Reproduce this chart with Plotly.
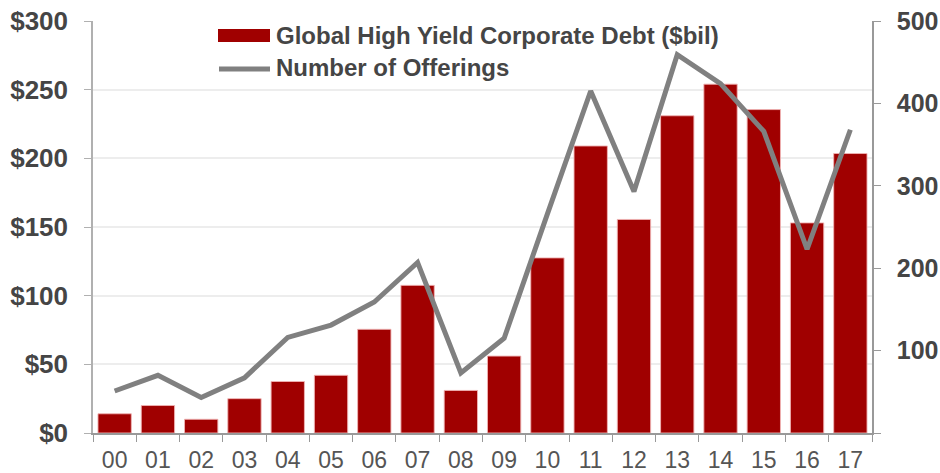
import plotly.graph_objects as go

years = ["00", "01", "02", "03", "04", "05", "06", "07", "08", "09",
         "10", "11", "12", "13", "14", "15", "16", "17"]
debt_bil = [14, 20, 10, 25, 37.5, 42, 75.5, 107.5, 31, 56,
            127.5, 209, 155.5, 231, 254, 235.5, 153, 203.5]
offerings = [51, 70, 43, 67, 116, 131, 159, 207, 73, 115,
             266, 415, 293, 459, 424, 366, 223, 368]

bar_name = "Global High Yield Corporate Debt ($bil)"
line_name = "Number of Offerings"
left_ticks = [0, 50, 100, 150, 200, 250, 300]
left_text = ["$0", "$50", "$100", "$150", "$200", "$250", "$300"]
right_ticks = [0, 100, 200, 300, 400, 500]
right_text = ["", "100", "200", "300", "400", "500"]

RED = "#a00000"
GRAY = "#808080"
TXT = "#454545"
FONT = "Liberation Sans, Arial, sans-serif"

fig = go.Figure()
fig.add_trace(go.Bar(
    x=years, y=debt_bil, name=bar_name,
    marker=dict(color=RED, line=dict(color="rgba(240,180,180,0.9)", width=1)),
    yaxis="y", showlegend=False, hoverinfo="skip",
))
fig.add_trace(go.Scatter(
    x=years, y=offerings, name=line_name, mode="lines",
    line=dict(color=GRAY, width=5),
    yaxis="y2", showlegend=False, hoverinfo="skip",
))

W, H = 940, 473
L, R, T, B = 93, 68, 21, 40
pw, ph = W - L - R, H - T - B

def px(x):
    return (x - L) / pw

def py(y):
    return (H - B - y) / ph

shapes = [
    dict(type="rect", xref="paper", yref="paper",
         x0=px(218), x1=px(270), y0=py(42), y1=py(29),
         fillcolor=RED, line=dict(width=0)),
    dict(type="line", xref="paper", yref="paper",
         x0=px(219), x1=px(270), y0=py(69), y1=py(69),
         line=dict(color=GRAY, width=5)),
]
annotations = [
    dict(xref="paper", yref="paper", x=px(274), y=py(36), text=bar_name,
         showarrow=False, xanchor="left", yanchor="middle",
         font=dict(family=FONT, size=24, color=TXT, weight="bold")),
    dict(xref="paper", yref="paper", x=px(274), y=py(68), text=line_name,
         showarrow=False, xanchor="left", yanchor="middle",
         font=dict(family=FONT, size=24, color=TXT, weight="bold")),
]

fig.update_layout(
    width=W, height=H,
    margin=dict(l=L, r=R, t=T, b=B, pad=0, autoexpand=False),
    paper_bgcolor="white", plot_bgcolor="white",
    bargap=0.23,
    shapes=shapes, annotations=annotations,
    xaxis=dict(
        type="category", tickson="boundaries", ticks="outside", ticklen=7,
        tickcolor="#999999", showline=True, linecolor="#999999", linewidth=1.5,
        tickfont=dict(family=FONT, size=23, color="#555555"),
        ticklabelstandoff=6, showgrid=False, automargin=False,
    ),
    yaxis=dict(
        range=[0, 300], tickvals=left_ticks, ticktext=left_text,
        ticks="outside", ticklen=7, tickcolor="#b0b0b0",
        showline=True, linecolor="#b0b0b0", linewidth=1.5,
        showgrid=True, gridcolor="#ededed", gridwidth=1.5, zeroline=False,
        tickfont=dict(family=FONT, size=26, color=TXT, weight="bold"),
        ticklabelstandoff=11, automargin=False,
    ),
    yaxis2=dict(
        range=[0, 500], tickvals=right_ticks, ticktext=right_text,
        overlaying="y", side="right",
        ticks="outside", ticklen=7, tickcolor="#999999",
        showline=True, linecolor="#999999", linewidth=1.5,
        showgrid=False, zeroline=False,
        tickfont=dict(family=FONT, size=25, color=TXT, weight="bold"),
        ticklabelstandoff=11, automargin=False,
    ),
)

fig.write_html(
    "out.html",
    config={"displayModeBar": False},
    post_script="document.body.style.margin='0';document.body.style.overflow='hidden';",
)
